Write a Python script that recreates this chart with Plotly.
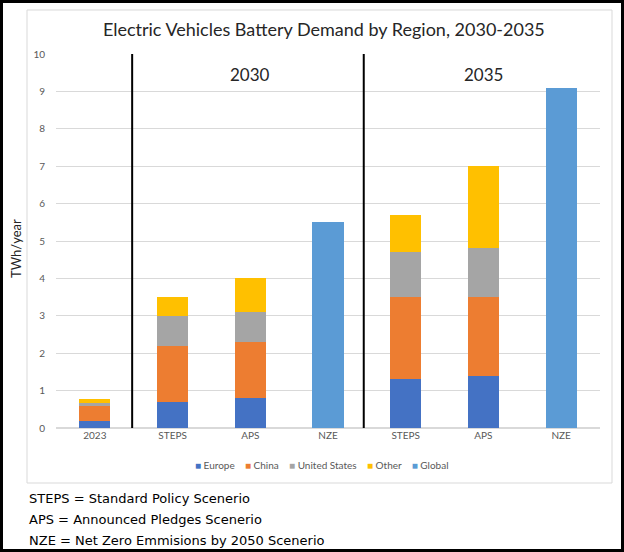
import plotly.graph_objects as go

tick_labels = ["2023", "STEPS", "APS", "NZE", "STEPS", "APS", "NZE"]
positions = [0, 1, 2, 3, 4, 5, 6]

europe = [0.18, 0.7, 0.8, None, 1.3, 1.4, None]
china = [0.42, 1.5, 1.5, None, 2.2, 2.1, None]
united_states = [0.08, 0.8, 0.8, None, 1.2, 1.3, None]
other = [0.1, 0.5, 0.9, None, 1.0, 2.2, None]
global_total = [None, None, None, 5.5, None, None, 9.1]

series = [
    ("Europe", europe, "#4472C4"),
    ("China", china, "#ED7D31"),
    ("United States", united_states, "#A5A5A5"),
    ("Other", other, "#FFC000"),
    ("Global", global_total, "#5B9BD5"),
]

period_labels = [("2030", 2), ("2035", 5)]
dividers = [0.48, 3.46]

footnotes = [
    "STEPS = Standard Policy Scenerio",
    "APS = Announced Pledges Scenerio",
    "NZE = Net Zero Emmisions by 2050 Scenerio",
]

W, H = 624, 552
L, R, T, B = 56, 24, 54, 124
pw, ph = W - L - R, H - T - B


def px_x(p):
    return (p - L) / pw


def px_y(p):
    return (H - B - p) / ph


fig = go.Figure()
for name, vals, color in series:
    fig.add_trace(go.Bar(x=positions, y=vals, name=name, marker_color=color,
                         marker_line_width=0, showlegend=False))

fig.update_layout(
    width=W, height=H,
    margin=dict(l=L, r=R, t=T, b=B),
    barmode="stack", bargap=0.6,
    paper_bgcolor="white", plot_bgcolor="white",
    font=dict(family="Lato", color="#595959"),
    title=dict(text="Electric Vehicles Battery Demand by Region, 2030-2035",
               x=0.519, xanchor="center", y=1 - 30 / H, yanchor="middle",
               font=dict(family="Lato", size=18, color="#262626")),
    xaxis=dict(range=[-0.5, 6.5], tickmode="array", tickvals=positions,
               ticktext=tick_labels, showgrid=False, zeroline=False,
               showline=False, tickfont=dict(size=10, color="#595959")),
    yaxis=dict(range=[0, 10], dtick=1, showgrid=True, gridcolor="#D9D9D9",
               gridwidth=1, zeroline=True, zerolinecolor="#D9D9D9",
               showline=False, tickfont=dict(size=10, color="#595959"),
               ticklabelstandoff=10),
)

for xv in dividers:
    fig.add_shape(type="line", xref="x", yref="y", x0=xv, x1=xv, y0=0, y1=10,
                  line=dict(color="black", width=2))

for text, xv in period_labels:
    fig.add_annotation(text=text, x=xv, y=9.45, xref="x", yref="y",
                       xanchor="center", yanchor="middle",
                       showarrow=False, font=dict(size=17, color="#262626"))

fig.add_annotation(text="TWh/year", textangle=-90, x=px_x(16), y=px_y(249),
                   xref="paper", yref="paper", xanchor="center",
                   yanchor="middle", showarrow=False,
                   font=dict(size=13, color="#262626"))

legend_html = "&nbsp;&nbsp;&nbsp;&nbsp;".join(
    f"<span style='color:{c}'>■</span> {n}" for n, _, c in series)
fig.add_annotation(text=legend_html, x=px_x(322), y=px_y(465), xref="paper",
                   yref="paper", xanchor="center", yanchor="middle",
                   showarrow=False,
                   font=dict(size=10, color="#595959"))

for i, line in enumerate(footnotes):
    fig.add_annotation(text=line, x=px_x(27), y=px_y(498 + 21 * i),
                       xref="paper", yref="paper", xanchor="left",
                       yanchor="middle", showarrow=False,
                       font=dict(family="DejaVu Sans", size=13, color="black"))

# inner chart-area border
fig.add_shape(type="rect", xref="paper", yref="paper",
              x0=px_x(27), x1=px_x(612), y0=px_y(483), y1=px_y(10),
              line=dict(color="#D9D9D9", width=1))
# outer frame
fig.add_shape(type="rect", xref="paper", yref="paper",
              x0=px_x(1.5), x1=px_x(622.5), y0=px_y(550.5), y1=px_y(1.5),
              line=dict(color="black", width=3))

fig.write_html("out.html")
